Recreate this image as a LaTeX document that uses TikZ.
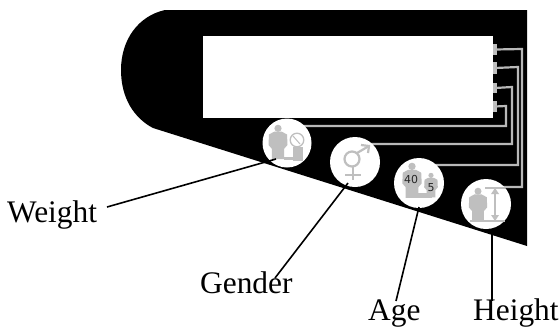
\documentclass[tikz,border=0pt]{standalone}
\usepackage{fontspec}
\setmainfont{Liberation Serif}
\newfontfamily\iconfont{DejaVu Sans}
\definecolor{icongray}{gray}{0.75}
\definecolor{wiregray}{gray}{0.72}
\tikzset{
  x=1bp,y=-1bp,
  btn/.style={circle,fill=white,inner sep=0pt,minimum size=50bp},
  lbl/.style={font=\fontsize{31.5}{32}\selectfont,inner sep=0pt,anchor=base west,text=black},
  leader/.style={draw=black,line width=1.6bp},
  wire/.style={draw=wiregray,line width=2.2bp},
  tab/.style={fill=icongray,draw=none},
  iconline/.style={draw=icongray,line width=2.2bp},
  iconfill/.style={fill=icongray,draw=none},
  agenum/.style={font=\iconfont\fontsize{11}{11}\selectfont,text=black!85,inner sep=0pt},
  pics/person/.style={code={
    \fill[icongray] (0,3.5) circle (3.8);
    \fill[icongray] (-4,7) -- (4,7) -- (9.5,10) -- (10,21) -- (6.5,25) -- (6.5,36) -- (-6.5,36) -- (-6.5,25) -- (-10,21) -- (-9.5,10) -- cycle;
  }}
}
\begin{document}
\begin{tikzpicture}
\useasboundingbox (0,0) rectangle (560,328);
% body
\fill[black] (165,10) -- (527,10) -- (527,246) -- (153,128)
  .. controls (134,118) and (121,98) .. (121,70)
  .. controls (121,40) and (138,16) .. (165,10) -- cycle;
% display
\node[fill=white,inner sep=0pt,minimum width=290bp,minimum height=82bp] (display) at (348,77) {};
% tabs
\fill[tab] (493,44) rectangle (497,55) coordinate[pos=.5] (t1);
\fill[tab] (493,62) rectangle (497,74) coordinate[pos=.5] (t2);
\fill[tab] (493,83) rectangle (497,93) coordinate[pos=.5] (t3);
\fill[tab] (493,101) rectangle (497,112) coordinate[pos=.5] (t4);
% wires
\coordinate (w1) at (522,187);
\coordinate (w2) at (518,165);
\coordinate (w3) at (512,144);
\coordinate (w4) at (506,126);
\draw[wire] (t1) -- (522,49) -- (w1) -- (485,187);
\draw[wire] (t2) -- (518,67) -- (w2) -- (430,165);
\draw[wire] (t3) -- (512,87) -- (w3) -- (370,144);
\draw[wire] (t4) -- (506,106) -- (w4) -- (300,126);
% buttons
\node[btn,minimum size=49bp] (weightbtn) at (287,143) {};
\node[btn] (genderbtn) at (355,162) {};
\node[btn] (agebtn) at (419,183) {};
\node[btn] (heightbtn) at (486,204) {};
% weight icon
\pic[scale=.95] at (278,125) {person};
\draw[draw=icongray,line width=1.3bp] (297,140) circle (6.8);
\draw[draw=icongray,line width=1bp] (293,136) -- (300,144);
\fill[iconfill] (293,147) rectangle (303,161);
\fill[iconfill] (284,157) rectangle (303,160);
% gender icon
\draw[iconline] (352,159) circle (7.5);
\draw[iconline] (353,166) -- (353,180);
\draw[iconline] (345,175) -- (361,175);
\draw[iconline] (357,153) -- (369,146);
\draw[iconline] (361,145) -- (369,146) -- (368,153);
% age icon
\pic[scale=.97] at (412,163) {person};
\pic[scale=.68] at (431,173) {person};
\fill[iconfill] (412,193) rectangle (432,198);
\node[agenum] (agefour) at (411,180) {40};
\node[agenum] (agefive) at (431,188) {5};
% height icon
\pic[scale=.92] at (478,188) {person};
\draw[draw=icongray,line width=1.3bp] (485,188) -- (505,188);
\draw[draw=icongray,line width=1.3bp] (470,221) -- (505,221);
\draw[draw=icongray,line width=1.3bp] (495,190) -- (495,220);
\fill[iconfill] (495,188) -- (491,194) -- (499,194) -- cycle;
\fill[iconfill] (495,221) -- (491,215) -- (499,215) -- cycle;
% labels
\node[lbl] (weightlbl) at (7,222) {Weight};
\node[lbl] (genderlbl) at (200,293) {Gender};
\node[lbl] (agelbl) at (368,320.5) {Age};
\node[lbl] (heightlbl) at (473,320.5) {Height};
% leaders
\coordinate (wend) at (276,159);
\coordinate (wstart) at (107,207);
\coordinate (gend) at (348,183);
\coordinate (gstart) at (275,278);
\coordinate (aend) at (419,207);
\coordinate (astart) at (396,301);
\coordinate (hend) at (492,234);
\coordinate (hstart) at (492,301);
\draw[leader] (wstart) -- (wend);
\draw[leader] (gstart) -- (gend);
\draw[leader] (astart) -- (aend);
\draw[leader] (hstart) -- (hend);
\end{tikzpicture}
\end{document}
